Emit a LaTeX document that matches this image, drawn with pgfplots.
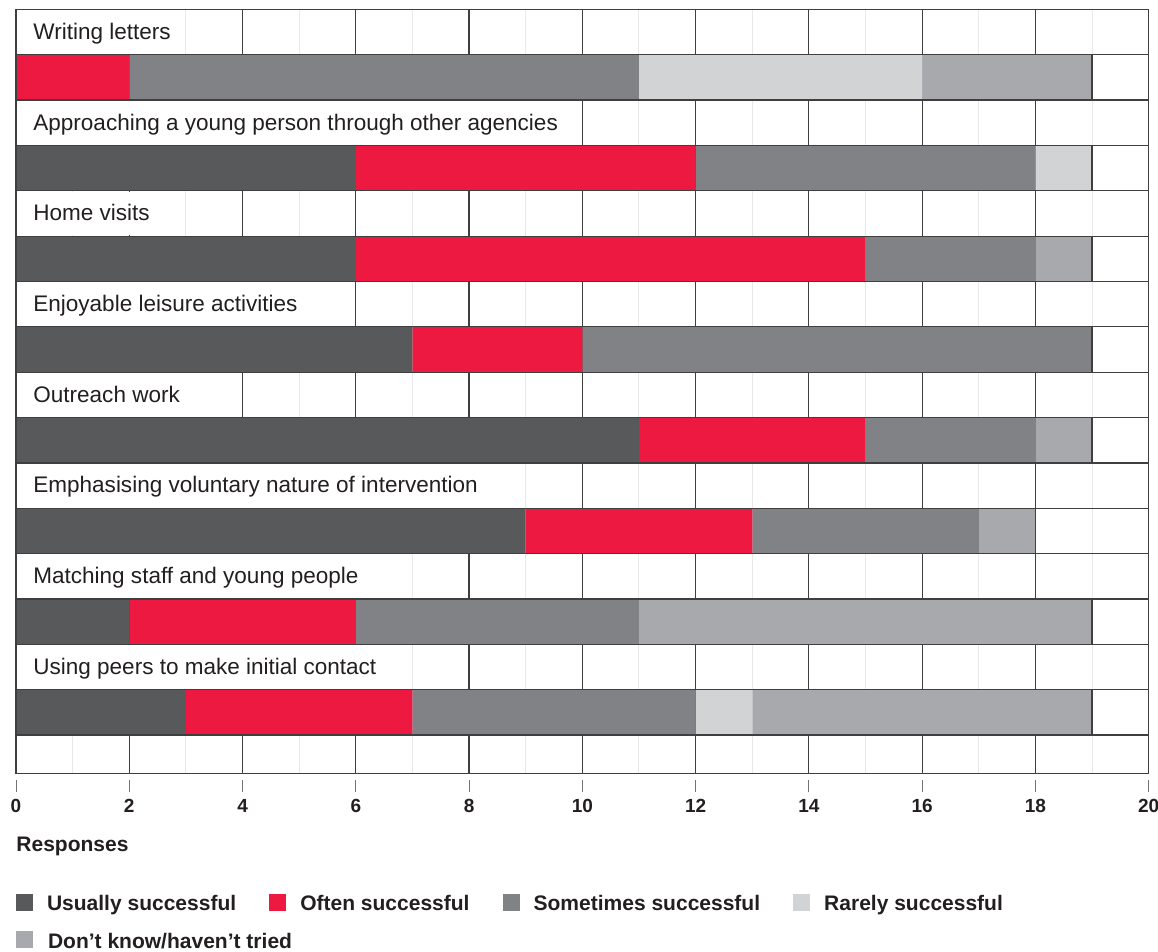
\documentclass[border=0pt]{standalone}
\usepackage{fontspec}
\setmainfont{Liberation Sans}
\usepackage{pgfplots}
\pgfplotsset{compat=1.18}

\definecolor{usually}{HTML}{58595B}
\definecolor{often}{HTML}{ED1941}
\definecolor{sometimes}{HTML}{808285}
\definecolor{rarely}{HTML}{D1D3D4}
\definecolor{dontknow}{HTML}{A7A9AC}
\definecolor{ink}{HTML}{231F20}
\definecolor{rule}{HTML}{3F3F40}

% each category has a label row and a bar row
\pgfplotsset{
  board/.style={
    width=566pt, height=381.7pt, scale only axis,
    xmin=0, xmax=20, ymin=0, ymax=16.84, y dir=reverse,
  },
}
% label on a white strip that hides the grid behind it
\tikzset{cat/.style={anchor=base west, inner sep=0pt, xshift=0.4pt,
    fill=white, text height=14.6pt, text depth=7.3pt,
    text=ink, font=\fontsize{11.25}{13}\selectfont}}
\newcommand{\cattext}[1]{\hspace*{8.1pt}#1\hspace*{5pt}}

\begin{document}
\begin{tikzpicture}
\begin{axis}[
    board, name=main,
    xbar stacked, bar width=1,
    axis line style={rule, line width=0.6pt},
    xtick={0,2,...,20}, minor xtick={1,3,...,19},
    ytick={0,...,16}, yticklabels={},
    xmajorgrids, xminorgrids, ymajorgrids,
    major grid style={rule, line width=0.6pt},
    minor grid style={black!9, line width=0.5pt},
    xtick pos=left, tick align=outside,
    major tick length=6pt, minor tick length=0pt,
    xtick style={black!55, line width=0.5pt, yshift=-3.65pt},
    ytick style={draw=none},
    /pgf/number format/assume math mode=true,
    xticklabel style={font=\bfseries\fontsize{9.5}{11}\selectfont, text=ink,
      inner sep=0pt, anchor=north, yshift=-6.9pt},
    legend image code/.code={\fill[#1] (0pt,0pt) rectangle (8.5pt,8.5pt);},
    legend columns=4,
    legend style={at={(0,0)}, anchor=north west, yshift=-60.15pt,
      draw=none, fill=none, inner sep=0pt, outer sep=0pt,
      font=\bfseries\fontsize{10.5}{12}\selectfont, text=ink,
      row sep=7.9pt, cells={anchor=base west},
      nodes={inner sep=0pt, text height=7pt, text depth=2.5pt},
      /tikz/every odd column/.append style={column sep=7pt},
      /tikz/every even column/.append style={column sep=16.5pt}},
  ]
  \addplot[fill=usually, draw=none] coordinates {
    (0,1.5) (6,3.5) (6,5.5) (7,7.5) (11,9.5) (9,11.5) (2,13.5) (3,15.5)};
  \addlegendentry{Usually successful}
  \addplot[fill=often, draw=none] coordinates {
    (2,1.5) (6,3.5) (9,5.5) (3,7.5) (4,9.5) (4,11.5) (4,13.5) (4,15.5)};
  \addlegendentry{Often successful}
  \addplot[fill=sometimes, draw=none] coordinates {
    (9,1.5) (6,3.5) (3,5.5) (9,7.5) (3,9.5) (4,11.5) (5,13.5) (5,15.5)};
  \addlegendentry{Sometimes successful}
  \addplot[fill=rarely, draw=none] coordinates {
    (5,1.5) (1,3.5) (0,5.5) (0,7.5) (0,9.5) (0,11.5) (0,13.5) (1,15.5)};
  \addlegendentry{Rarely successful}
  \addplot[fill=dontknow, draw=none] coordinates {
    (3,1.5) (0,3.5) (1,5.5) (0,7.5) (1,9.5) (1,11.5) (8,13.5) (6,15.5)};
  \addlegendentry{\rlap{Don’t know/haven’t tried}}

  \node[cat] at (axis cs:0,0.662)  {\cattext{Writing letters}};
  \node[cat] at (axis cs:0,2.662)  {\cattext{Approaching a young person through other agencies}};
  \node[cat] at (axis cs:0,4.662)  {\cattext{Home visits}};
  \node[cat] at (axis cs:0,6.662)  {\cattext{Enjoyable leisure activities}};
  \node[cat] at (axis cs:0,8.662)  {\cattext{Outreach work}};
  \node[cat] at (axis cs:0,10.662) {\cattext{Emphasising voluntary nature of intervention}};
  \node[cat] at (axis cs:0,12.662) {\cattext{Matching staff and young people}};
  \node[cat] at (axis cs:0,14.662) {\cattext{Using peers to make initial contact}};
\end{axis}

% outline round each whole bar
\begin{axis}[board, hide axis]
  \addplot[xbar, bar width=1, fill=none, draw=rule, line width=0.6pt] coordinates {
    (19,1.5) (19,3.5) (19,5.5) (19,7.5) (19,9.5) (18,11.5) (19,13.5) (19,15.5)};
\end{axis}

\node[anchor=base west, inner sep=0pt, text=ink,
  font=\bfseries\fontsize{10.5}{12}\selectfont] at ([yshift=-39pt]main.south west) {Responses};

\pgfresetboundingbox
\path ([shift={(-8pt,-89.15pt)}]main.south west) rectangle ([shift={(4.65pt,4.65pt)}]main.north east);
\end{tikzpicture}
\end{document}
